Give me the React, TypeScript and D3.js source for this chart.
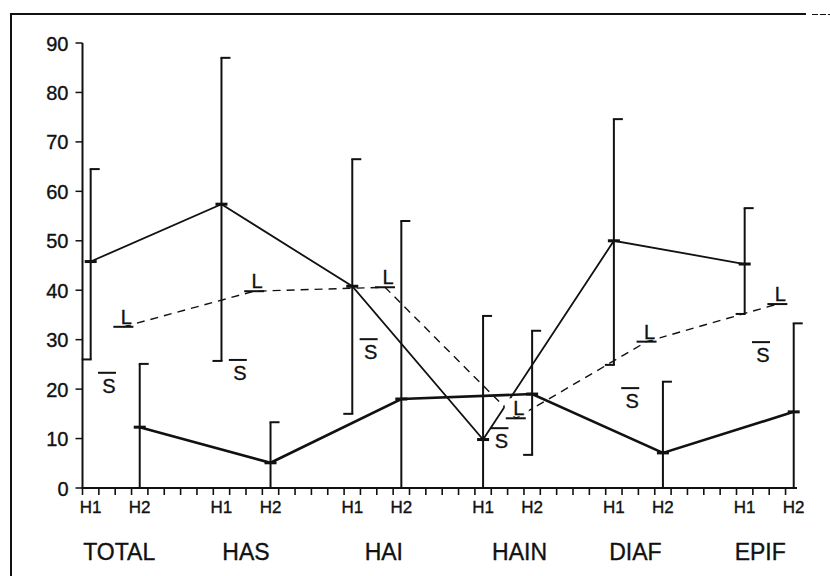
import React from "react";
import * as d3 from "d3";

// ---- data ----
const categories = ["TOTAL", "HAS", "HAI", "HAIN", "DIAF", "EPIF"];
const subLabels = ["H1", "H2"];
const yTicks = [0, 10, 20, 30, 40, 50, 60, 70, 80, 90];

const h1Mean = [45.8, 57.4, 40.8, 9.8, 50.0, 45.3];
const h1Upper = [64.5, 87, 66.5, 34.8, 74.6, 56.6];
const h1Lower = [26, 25.7, 15, 0, 24.9, 35.2];

const h2Mean = [12.3, 5.1, 18.0, 19.0, 7.1, 15.4];
const h2Upper = [25.1, 13.3, 54, 31.8, 21.5, 33.3];
const h2Lower = [0, 0, 0, 6.7, 0, 0];

const lValues = [32.6, 39.8, 40.6, 14.1, 29.6, 37.2];
const sValues = [23.3, 25.9, 30.1, 12.1, 20.2, 29.5];

// ---- layout (positions in axis units, not data) ----
const GROUP = 8;
const OFF_H1 = 0.5;
const OFF_H2 = 3.5;
const OFF_S = 1.5;
const OFF_L = 2.5;
const labelShift = [4, 0, 7, 12, -3, -9];

const W = 830;
const H = 576;
const INK = "#111";
const FONT = "'Liberation Sans', Arial, Helvetica, sans-serif";

export default function App() {
  const x = d3.scaleLinear().domain([0, 43]).range([82.5, 82.5 + 43 * 16.35]);
  const y = d3.scaleLinear().domain([0, 90]).range([488, 43]);
  const xTicks = d3.range(0, 44);
  const axisEnd = x(43.7);

  const h1Line = d3
    .line<number>()
    .x((_, i) => x(i * GROUP + OFF_H1))
    .y((d) => y(d));
  const h2Line = d3
    .line<number>()
    .x((_, i) => x(i * GROUP + OFF_H2))
    .y((d) => y(d));
  const lLine = d3
    .line<number>()
    .x((_, i) => x(i * GROUP + OFF_L))
    .y((d) => y(d));

  const serif = 9;
  const textStroke = { stroke: INK, strokeWidth: 0.35 };

  const errorBar = (cx: number, lo: number, hi: number, key: string) => {
    const yl = y(lo);
    const yh = y(hi);
    return (
      <g key={key} stroke={INK} strokeWidth={2} fill="none">
        <line x1={cx} x2={cx} y1={yl} y2={yh} />
        <line x1={cx - 1} x2={cx + serif} y1={yh} y2={yh} />
        {lo > 0 && <line x1={cx - serif} x2={cx + 1} y1={yl} y2={yl} />}
      </g>
    );
  };

  return (
    <svg
      width={W}
      height={H}
      style={{ position: "absolute", left: 0, top: 0, background: "#fff" }}
      fontFamily={FONT}
    >
      <rect x={0} y={0} width={W} height={H} fill="#fff" />
      {/* frame */}
      <line x1={11} x2={806} y1={14} y2={14} stroke={INK} strokeWidth={2} />
      <line x1={812} x2={830} y1={14.5} y2={14.5} stroke={INK} strokeWidth={1.2} strokeDasharray="6,2" />
      <line x1={11} x2={11} y1={13} y2={H} stroke={INK} strokeWidth={2} />

      {/* y axis */}
      <line x1={x(0)} x2={x(0)} y1={y(0)} y2={y(90)} stroke={INK} strokeWidth={2} />
      {yTicks.map((t) => (
        <g key={"yt" + t}>
          <line x1={x(0) - 7} x2={x(0)} y1={y(t)} y2={y(t)} stroke={INK} strokeWidth={1.5} />
          <text x={x(0) - 14} y={y(t) + 7.5} textAnchor="end" fontSize={20} fill={INK} {...textStroke}>
            {t}
          </text>
        </g>
      ))}

      {/* x axis */}
      <line x1={x(0) - 1} x2={axisEnd} y1={y(0)} y2={y(0)} stroke={INK} strokeWidth={2.2} />
      {xTicks.map((t) => (
        <line key={"xt" + t} x1={x(t)} x2={x(t)} y1={y(0)} y2={y(0) + 7} stroke={INK} strokeWidth={1.6} />
      ))}

      {/* sub labels */}
      {categories.map((c, i) =>
        subLabels.map((s, j) => (
          <text
            key={c + s}
            x={x(i * GROUP + (j === 0 ? OFF_H1 : OFF_H2))}
            y={513}
            textAnchor="middle"
            fontSize={17}
            fill={INK}
            {...textStroke}
          >
            {s}
          </text>
        ))
      )}
      {/* category labels */}
      {categories.map((c, i) => (
        <text
          key={"cat" + c}
          x={x(i * GROUP + 2) + labelShift[i]}
          y={560}
          textAnchor="middle"
          fontSize={23}
          fill={INK}
          {...textStroke}
        >
          {c}
        </text>
      ))}

      {/* error bars */}
      {categories.map((c, i) => errorBar(x(i * GROUP + OFF_H1), h1Lower[i], h1Upper[i], "e1" + c))}
      {categories.map((c, i) => errorBar(x(i * GROUP + OFF_H2), h2Lower[i], h2Upper[i], "e2" + c))}

      {/* lines */}
      <path d={lLine(lValues) || ""} fill="none" stroke={INK} strokeWidth={1.4} strokeDasharray="8,6" />
      <path d={h1Line(h1Mean) || ""} fill="none" stroke={INK} strokeWidth={1.8} />
      <path d={h2Line(h2Mean) || ""} fill="none" stroke={INK} strokeWidth={2.6} />

      {/* mean markers */}
      {h1Mean.map((v, i) => {
        const cx = x(i * GROUP + OFF_H1);
        return <line key={"m1" + i} x1={cx - 6} x2={cx + 6} y1={y(v)} y2={y(v)} stroke={INK} strokeWidth={3} />;
      })}
      {h2Mean.map((v, i) => {
        const cx = x(i * GROUP + OFF_H2);
        return <line key={"m2" + i} x1={cx - 6} x2={cx + 6} y1={y(v)} y2={y(v)} stroke={INK} strokeWidth={3} />;
      })}

      {/* L markers */}
      {lValues.map((v, i) => {
        const cx = x(i * GROUP + OFF_L);
        const cy = y(v);
        return (
          <g key={"L" + i}>
            <rect x={cx - 11} y={cy - 20} width={24} height={18} fill="#fff" />
            <text x={cx + 3} y={cy - 3} textAnchor="middle" fontSize={20} fill={INK} {...textStroke}>
              L
            </text>
            <line x1={cx - 10} x2={cx + 10} y1={cy} y2={cy} stroke={INK} strokeWidth={2} />
          </g>
        );
      })}

      {/* S markers */}
      {sValues.map((v, i) => {
        const cx = x(i * GROUP + OFF_S);
        const cy = y(v);
        return (
          <g key={"S" + i}>
            <line x1={cx - 9} x2={cx + 9} y1={cy} y2={cy} stroke={INK} strokeWidth={2} />
            <text x={cx + 2} y={cy + 20} textAnchor="middle" fontSize={20} fill={INK} {...textStroke}>
              S
            </text>
          </g>
        );
      })}
    </svg>
  );
}
